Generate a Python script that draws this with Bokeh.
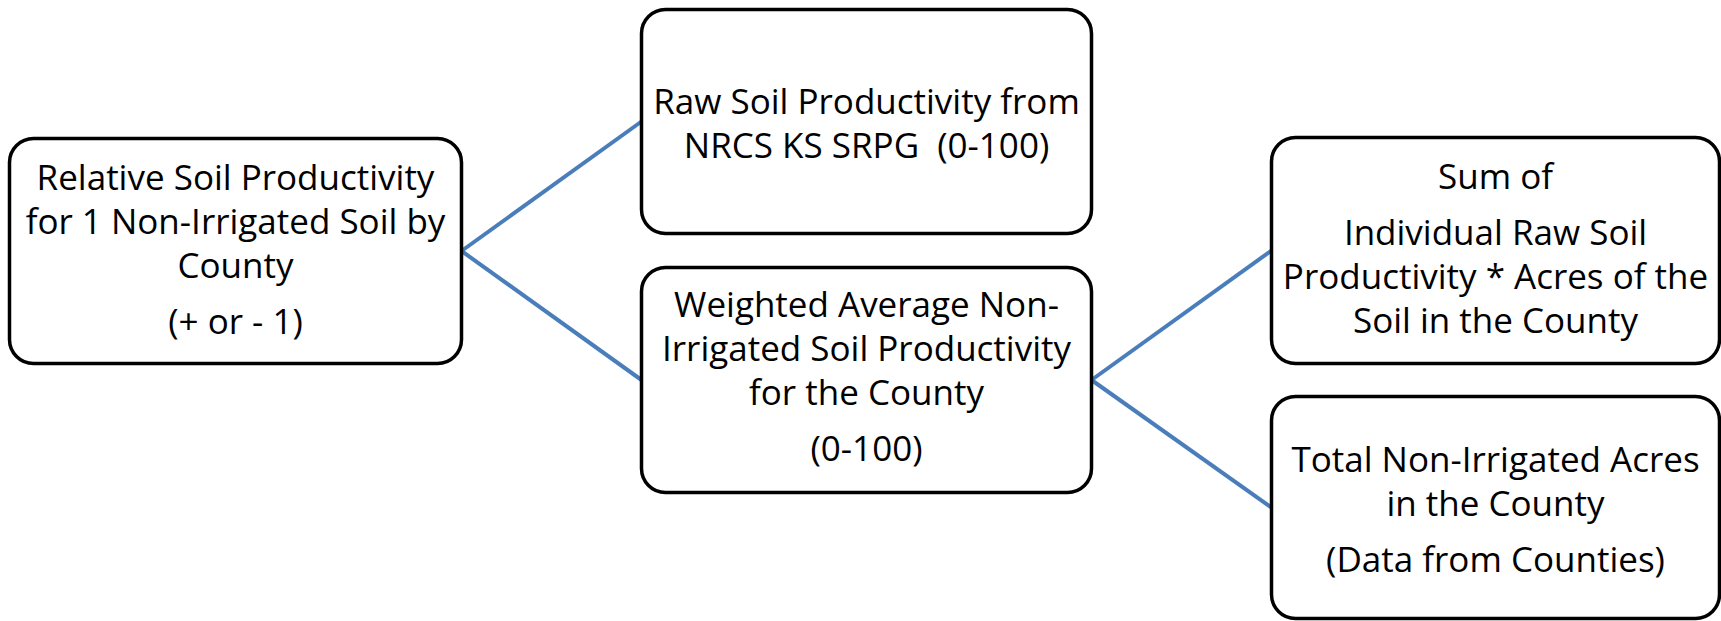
from bokeh.plotting import figure
from bokeh.models import Range1d
from bokeh.core.properties import value
from bokeh.embed import file_html
from bokeh.resources import INLINE

# ---- diagram content (text of each box, as lines; "" marks a paragraph gap) ----
box_names = ["relative", "raw", "weighted", "sum", "total"]
box_text = [
    ["Relative Soil Productivity", "for 1 Non-Irrigated Soil by", "County", "", "(+ or - 1)"],
    ["Raw Soil Productivity from", "NRCS KS SRPG\u00a0 (0-100)"],
    ["Weighted Average Non-", "Irrigated Soil Productivity", "for the County", "", "(0-100)"],
    ["Sum of", "", "Individual Raw Soil", "Productivity * Acres of the", "Soil in the County"],
    ["Total Non-Irrigated Acres", "in the County", "", "(Data from Counties)"],
]
# parent -> child connections
links_from = [0, 0, 2, 2]
links_to = [1, 2, 3, 4]

# ---- layout (reference pixel coordinates) ----
box_left = [9, 641, 641, 1271, 1271]
box_right = [461, 1091, 1091, 1719, 1719]
box_top = [138, 9, 267, 137, 396]
box_bottom = [363, 233, 492, 363, 618]
first_baseline = [188, 112, 315, 187, 470]
LINE_STEP = 44
PARA_STEP = 12
TEXT_SHIFT = -12   # compensates the renderer's baseline placement

p = figure(width=1721, height=621, output_backend="svg", toolbar_location=None,
           x_range=Range1d(0, 1721), y_range=Range1d(621, 0),
           min_border=0, background_fill_color="white", border_fill_color="white")
p.axis.visible = False
p.grid.visible = False
p.outline_line_color = None

# connectors
x0, y0, x1, y1 = [], [], [], []
for a, b in zip(links_from, links_to):
    x0.append(box_right[a]); y0.append((box_top[a] + box_bottom[a]) / 2)
    x1.append(box_left[b]); y1.append((box_top[b] + box_bottom[b]) / 2)
p.segment(x0=x0, y0=y0, x1=x1, y1=y1, line_color="#4A7EBB", line_width=4)

# boxes
p.quad(left=box_left, right=box_right, top=box_top, bottom=box_bottom,
       fill_color="white", line_color="black", line_width=3.5, border_radius=24)

# text
tx, ty, tt = [], [], []
for i, lines in enumerate(box_text):
    cx = (box_left[i] + box_right[i]) / 2
    y = first_baseline[i] + TEXT_SHIFT
    for ln in lines:
        if ln == "":
            y += PARA_STEP
            continue
        tx.append(cx); ty.append(y); tt.append(ln)
        y += LINE_STEP
p.text(x=tx, y=ty, text=tt, text_align="center", text_baseline="alphabetic",
       text_font=value("Open Sans"), text_font_size="35px", text_color="black")

open("out.html", "w").write(file_html(p, INLINE))
